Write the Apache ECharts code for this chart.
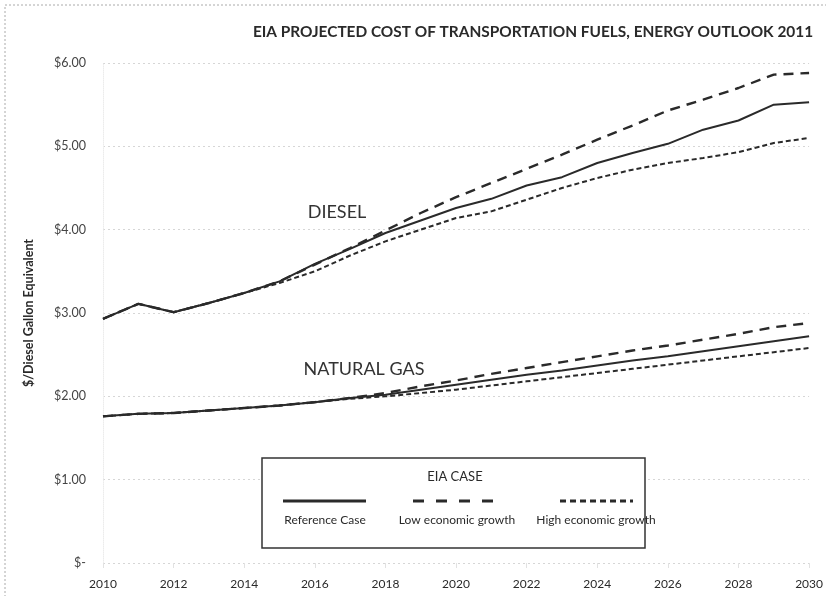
<!DOCTYPE html>
<html>
<head>
<meta charset="utf-8">
<script src="https://cdn.jsdelivr.net/npm/echarts@6/dist/echarts.min.js"></script>
<style>
  html, body { margin: 0; padding: 0; background: #fff; }
  #chart { width: 826px; height: 596px; }
</style>
</head>
<body>
<div id="chart"></div>
<script>
// years on the x axis
const years = ['2010', '2011', '2012', '2013', '2014', '2015', '2016', '2017', '2018', '2019', '2020',
  '2021', '2022', '2023', '2024', '2025', '2026', '2027', '2028', '2029', '2030'];

// diesel, $/DGE
const dieselRef = [2.93, 3.11, 3.01, 3.12, 3.24, 3.38, 3.59, 3.77, 3.96, 4.11, 4.26,
  4.37, 4.53, 4.63, 4.80, 4.92, 5.03, 5.20, 5.31, 5.50, 5.53];
const dieselLow = [2.93, 3.11, 3.01, 3.12, 3.24, 3.38, 3.58, 3.78, 3.99, 4.20, 4.39,
  4.56, 4.73, 4.90, 5.08, 5.25, 5.43, 5.56, 5.70, 5.86, 5.88];
const dieselHigh = [2.93, 3.11, 3.01, 3.12, 3.24, 3.36, 3.50, 3.69, 3.86, 4.00, 4.14,
  4.22, 4.36, 4.50, 4.62, 4.72, 4.80, 4.86, 4.93, 5.04, 5.10];

// natural gas, $/DGE
const gasRef = [1.76, 1.79, 1.80, 1.83, 1.86, 1.89, 1.93, 1.98, 2.02, 2.08, 2.14,
  2.20, 2.26, 2.31, 2.37, 2.43, 2.48, 2.54, 2.60, 2.66, 2.72];
const gasLow = [1.76, 1.79, 1.80, 1.83, 1.86, 1.89, 1.93, 1.98, 2.04, 2.12, 2.19,
  2.27, 2.34, 2.41, 2.48, 2.55, 2.61, 2.68, 2.75, 2.83, 2.88];
const gasHigh = [1.76, 1.79, 1.80, 1.83, 1.86, 1.89, 1.93, 1.97, 2.00, 2.04, 2.08,
  2.13, 2.18, 2.23, 2.28, 2.33, 2.38, 2.43, 2.48, 2.53, 2.58];

const caseNames = ['Reference Case', 'Low economic growth', 'High economic growth'];
const font = 'Lato, "Open Sans", sans-serif';
const ink = '#2a2a2a';

// line style per case: solid, long dash, short dash
const caseStyles = [
  { type: 'solid', width: 2 },
  { type: [10, 7], width: 2.4 },
  { type: [5, 3], width: 2 }
];

function makeLine(name, data, idx) {
  return {
    name: name,
    type: 'line',
    data: data,
    symbol: 'none',
    silent: true,
    lineStyle: { color: ink, width: caseStyles[idx].width, type: caseStyles[idx].type },
    z: 3 - idx
  };
}

const chart = echarts.init(document.getElementById('chart'), null, { renderer: 'canvas' });

// legend samples
const legendX = [283, 413, 560];
const legendW = [83, 89, 73];
const legendLabelX = [325, 457, 596];
const legendGraphics = [];
caseNames.forEach((n, i) => {
  legendGraphics.push({
    type: 'line',
    shape: { x1: legendX[i], y1: 501, x2: legendX[i] + legendW[i], y2: 501 },
    style: { stroke: ink, lineWidth: 3, lineDash: i === 0 ? null : (i === 1 ? [11, 12] : [6, 4]) }
  });
  legendGraphics.push({
    type: 'text', x: legendLabelX[i], y: 520,
    style: { text: n, font: '12px ' + font, fill: ink, textAlign: 'center', textVerticalAlign: 'middle' }
  });
});

chart.setOption({
  animation: false,
  backgroundColor: '#fff',
  title: {
    text: 'EIA PROJECTED COST OF TRANSPORTATION FUELS, ENERGY OUTLOOK 2011',
    left: 528, top: 20, textAlign: 'center',
    textStyle: { fontFamily: font, fontWeight: 'bold', fontSize: 15.4, color: ink }
  },
  grid: { left: 103, right: 11, top: 63, bottom: 33, containLabel: false },
  xAxis: {
    type: 'category',
    data: years,
    boundaryGap: false,
    axisLine: { show: false },
    axisTick: { show: true, interval: 1, length: 5, lineStyle: { color: '#e2e2e2' } },
    axisLabel: { interval: 1, color: ink, fontFamily: font, fontSize: 12, margin: 15 },
    splitLine: { show: false }
  },
  yAxis: {
    type: 'value',
    min: 0, max: 6, interval: 1,
    name: '$/Diesel Gallon Equivalent',
    nameLocation: 'middle',
    nameGap: 68,
    nameTextStyle: { fontFamily: font, fontWeight: 'bold', fontSize: 12.5, color: ink },
    axisLine: { show: true, lineStyle: { color: '#ececec', type: 'dotted' } },
    axisTick: { show: false },
    axisLabel: {
      color: '#444', fontFamily: font, fontSize: 12.5, margin: 17,
      formatter: (v) => (v === 0 ? '$-' : '$' + v.toFixed(2))
    },
    splitLine: { show: true, lineStyle: { color: '#d6d6d6', type: [2, 3], width: 1 } }
  },
  series: [
    makeLine('Diesel ' + caseNames[0], dieselRef, 0),
    makeLine('Diesel ' + caseNames[1], dieselLow, 1),
    makeLine('Diesel ' + caseNames[2], dieselHigh, 2),
    makeLine('Gas ' + caseNames[0], gasRef, 0),
    makeLine('Gas ' + caseNames[1], gasLow, 1),
    makeLine('Gas ' + caseNames[2], gasHigh, 2)
  ],
  graphic: [
    {
      type: 'rect', shape: { x: 5, y: 5, width: 900, height: 700 },
      style: { fill: 'none', stroke: '#aaa', lineWidth: 1, lineDash: [2, 2] }, silent: true
    },
    {
      type: 'text', x: 337, y: 212,
      style: { text: 'DIESEL', font: '18px ' + font, fill: '#333', textAlign: 'center', textVerticalAlign: 'middle' }
    },
    {
      type: 'text', x: 364, y: 369,
      style: { text: 'NATURAL GAS', font: '18px ' + font, fill: '#333', textAlign: 'center', textVerticalAlign: 'middle' }
    },
    {
      type: 'rect', shape: { x: 262, y: 458, width: 383, height: 90 },
      style: { fill: '#fff', stroke: '#333', lineWidth: 1.5 }, z: 10
    },
    {
      type: 'text', x: 455, y: 477, z: 11,
      style: { text: 'EIA CASE', font: '13px ' + font, fill: ink, textAlign: 'center', textVerticalAlign: 'middle' }
    },
    ...legendGraphics.map((g) => Object.assign({ z: 11 }, g))
  ]
});
</script>
</body>
</html>
